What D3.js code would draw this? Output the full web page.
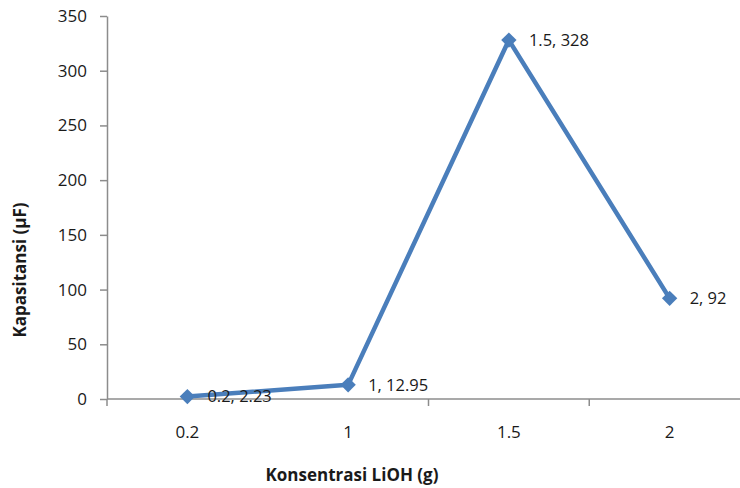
<!DOCTYPE html>
<html><head><meta charset="utf-8">
<script src="https://cdn.jsdelivr.net/npm/d3@7"></script>
<style>
html,body{margin:0;padding:0;background:#fff;}
svg{display:block;font-family:"Open Sans",sans-serif;}
</style></head>
<body>
<svg id="c" width="740" height="488"></svg>
<script>
const categories = ["0.2", "1", "1.5", "2"];
const values = [2.23, 12.95, 328, 92];
const dataLabels = ["0.2, 2.23", "1, 12.95", "1.5, 328", "2, 92"];
const yTicks = [0, 50, 100, 150, 200, 250, 300, 350];
const xTitle = "Konsentrasi LiOH (g)";
const yTitle = "Kapasitansi  (µF)";

(function () {
const svg = d3.select("#c");
const mLeft = 107, mRight = 750, mTop = 16, mBottom = 399;
const axisColor = "#8c8c8c";
const lineColor = "#4a7ebb";

const x = d3.scaleBand().domain(categories).range([mLeft, mRight]).paddingInner(0).paddingOuter(0);
const y = d3.scaleLinear().domain([0, 350]).range([mBottom, mTop]);

// Y axis
const yAxis = svg.append("g").attr("transform", `translate(${mLeft},0)`)
  .call(d3.axisLeft(y).tickValues(yTicks).tickSize(7).tickPadding(13).tickSizeOuter(0));
yAxis.select(".domain").attr("stroke", axisColor).attr("stroke-width", 1.5);
yAxis.selectAll(".tick line").attr("stroke", axisColor).attr("stroke-width", 1.5);
yAxis.selectAll(".tick text").attr("font-size", 17).attr("fill", "#1a1a1a").attr("font-family", "Open Sans");

// extend y axis line down to tick at bottom
svg.append("line").attr("x1", mLeft).attr("x2", mLeft).attr("y1", mBottom).attr("y2", mBottom + 7)
  .attr("stroke", axisColor).attr("stroke-width", 1.5);

// X axis
svg.append("line").attr("x1", mLeft).attr("x2", 740).attr("y1", mBottom).attr("y2", mBottom)
  .attr("stroke", axisColor).attr("stroke-width", 1.5);
// boundary tick marks (as in reference)
const boundaryTicks = [categories[1], categories[2]];
boundaryTicks.forEach(c => {
  const bx = x(c) + x.bandwidth();
  svg.append("line").attr("x1", bx).attr("x2", bx).attr("y1", mBottom).attr("y2", mBottom + 7)
    .attr("stroke", axisColor).attr("stroke-width", 1.5);
});
svg.append("g").selectAll("text").data(categories).join("text")
  .attr("x", d => x(d) + x.bandwidth() / 2)
  .attr("y", 438)
  .attr("text-anchor", "middle")
  .attr("font-size", 17).attr("fill", "#1a1a1a")
  .text(d => d);

// Line
const pts = categories.map((c, i) => ({ c, v: values[i], label: dataLabels[i] }));
const line = d3.line().x(d => x(d.c) + x.bandwidth() / 2).y(d => y(d.v));
svg.append("path").datum(pts).attr("d", line)
  .attr("fill", "none").attr("stroke", lineColor).attr("stroke-width", 4.5).attr("stroke-linejoin", "round");

// Diamond markers
const diamond = d3.symbol().type(d3.symbolSquare).size(118);
svg.append("g").selectAll("path").data(pts).join("path")
  .attr("d", diamond)
  .attr("transform", d => `translate(${x(d.c) + x.bandwidth() / 2},${y(d.v)}) rotate(45)`)
  .attr("fill", lineColor);

// Data labels
svg.append("g").selectAll("text").data(pts).join("text")
  .attr("x", d => x(d.c) + x.bandwidth() / 2 + 20)
  .attr("y", d => y(d.v))
  .attr("dy", "0.35em")
  .attr("font-size", 16.5).attr("fill", "#1a1a1a")
  .text(d => d.label);

// Axis titles
svg.append("text").attr("x", 352).attr("y", 481).attr("text-anchor", "middle")
  .attr("font-size", 17).attr("font-weight", "bold").attr("fill", "#1a1a1a").text(xTitle);
svg.append("text").attr("transform", "translate(26,270) rotate(-90)").attr("text-anchor", "middle")
  .attr("font-size", 17).attr("font-weight", "bold").attr("fill", "#1a1a1a").text(yTitle);
})();
</script>
</body></html>
